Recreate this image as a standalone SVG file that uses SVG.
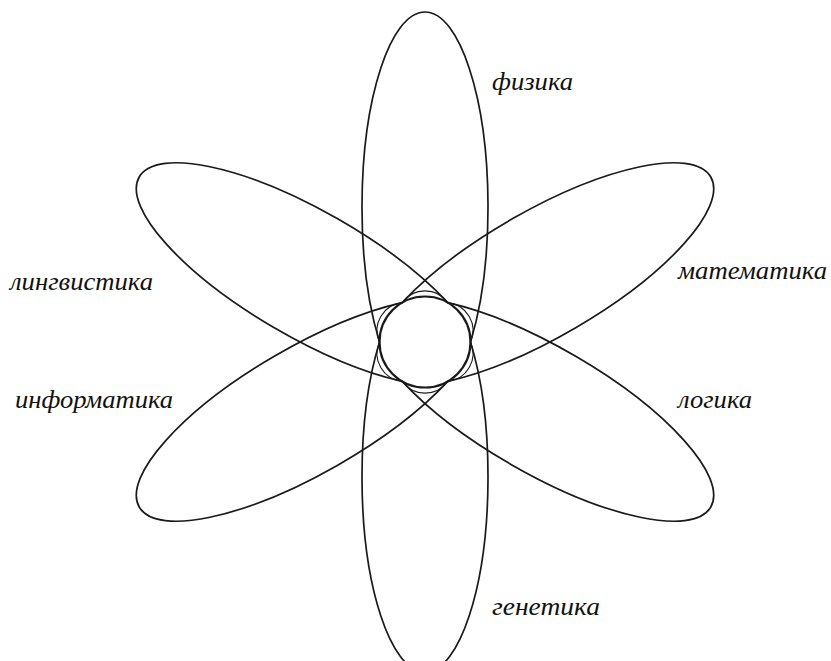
<svg xmlns="http://www.w3.org/2000/svg" width="831" height="661" viewBox="0 0 831 661">
<style>
.petal{fill:none;stroke:#1a1a1a;stroke-width:1.7}
.core{fill:none;stroke:#1a1a1a;stroke-width:2.2}
.rim{fill:none;stroke:#1a1a1a;stroke-width:1.1}
.lbl{font-family:"Liberation Serif","Times New Roman",serif;font-style:italic;font-size:26px;fill:#111}
</style>
<defs>
<path id="petalShape" d="M -45.46 0 A 63 195 0 1 1 45.46 0 A 63 195 0 1 1 -45.46 0 Z"/>
</defs>
<rect width="831" height="661" fill="#fff"/>
<g id="connectors">
<use href="#petalShape" class="petal" transform="translate(425 342)"/>
<use href="#petalShape" class="petal" transform="translate(425 342) rotate(60)"/>
<use href="#petalShape" class="petal" transform="translate(425 342) rotate(-60)"/>
<circle class="core" cx="425" cy="342" r="45.5"/>
<path class="rim" d="M 470.5 342 A 28 28 0 0 1 447.75 381.4 A 28 28 0 0 1 402.25 381.4 A 28 28 0 0 1 379.5 342 A 28 28 0 0 1 402.25 302.6 A 28 28 0 0 1 447.75 302.6 A 28 28 0 0 1 470.5 342 Z"/>
</g>
<g id="fizika"><text class="lbl" x="492" y="90" textLength="81" lengthAdjust="spacingAndGlyphs">физика</text></g>
<g id="matematika"><text class="lbl" x="678" y="279" textLength="149" lengthAdjust="spacingAndGlyphs">математика</text></g>
<g id="logika"><text class="lbl" x="678" y="408" textLength="74" lengthAdjust="spacingAndGlyphs">логика</text></g>
<g id="genetika"><text class="lbl" x="492" y="615" textLength="108" lengthAdjust="spacingAndGlyphs">генетика</text></g>
<g id="lingvistika"><text class="lbl" x="10" y="290" textLength="143" lengthAdjust="spacingAndGlyphs">лингвистика</text></g>
<g id="informatika"><text class="lbl" x="15" y="408" textLength="158" lengthAdjust="spacingAndGlyphs">информатика</text></g>
</svg>
